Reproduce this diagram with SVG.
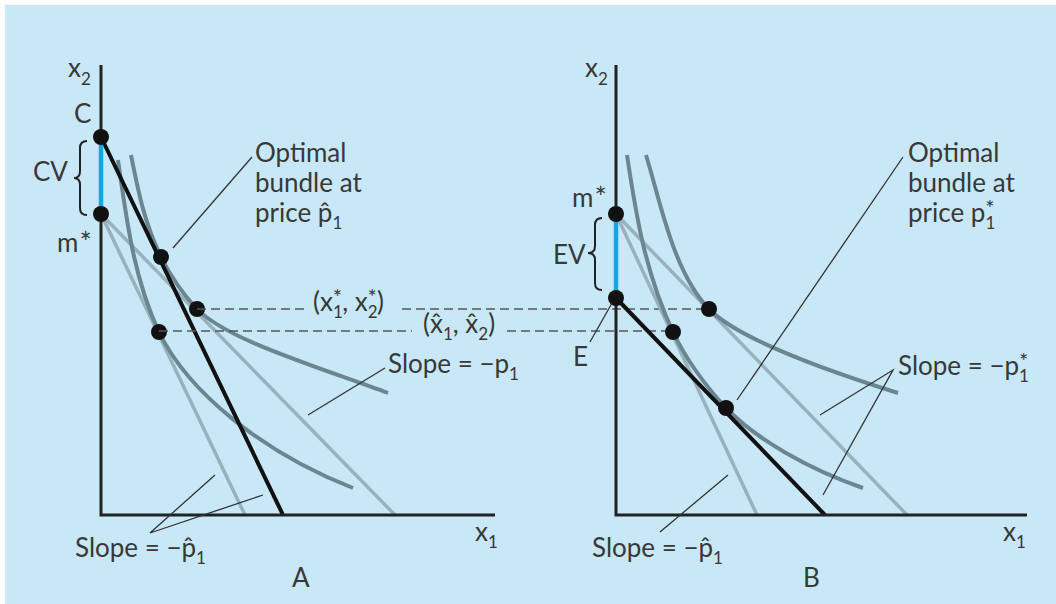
<svg xmlns="http://www.w3.org/2000/svg" width="1056" height="604" viewBox="0 0 1056 604">
<style>
.t{font-family:Lato,'Open Sans','Liberation Sans',sans-serif;font-size:26px;fill:#383838}
.s{font-size:17px}
.st{font-size:22px}
.sm{font-size:29px}
.ax{stroke:#222;stroke-width:3;fill:none}
.bud{stroke:#111;stroke-width:4;fill:none}
.lt{stroke:#97b2bd;stroke-width:3.5;fill:none}
.ic{stroke:#6b8691;stroke-width:4;fill:none}
.bl{stroke:#16a6e2;stroke-width:4.5;fill:none}
.ld{stroke:#333;stroke-width:1.3;fill:none}
.da{stroke:#555;stroke-width:1.6;stroke-dasharray:9 5;fill:none}
.br{stroke:#222;stroke-width:2;fill:none}
.dot{fill:#111}
</style>
<rect width="1056" height="604" fill="#fff"/>
<rect x="5" y="5" width="1051" height="599" fill="#c8e8f7"/>

<g id="panelA">
  <g id="A-lines">
    <path class="lt" d="M101,214 L395,515"/>
    <path class="lt" d="M101,214 L245,515"/>
    <path class="ic" d="M118,160 C126,215 133,277 159,332 C188,392 263,453 353,488"/>
    <path class="ic" d="M131,155 C138,190 144,222 161,257 C170,275 179.5,290.5 197,309 C227,340 318,367 388,393"/>
    <path class="bud" d="M101,137 L283,515"/>
    <path class="ax" d="M101,65 L101,515 L495,515"/>
    <path class="bl" d="M101,140 L101,211"/>
    <path class="br" d="M87,141 Q80,141 80,148 L80,171 Q80,178 74,178 Q80,178 80,185 L80,208 Q80,215 87,215"/>
  </g>
  <g id="A-dots">
    <circle class="dot" cx="101" cy="137" r="8"/>
    <circle class="dot" cx="101" cy="214" r="8"/>
    <circle class="dot" cx="161" cy="257" r="8"/>
    <circle class="dot" cx="197" cy="309" r="8"/>
    <circle class="dot" cx="159" cy="332" r="8"/>
  </g>
  <g id="A-leaders">
    <path class="ld" d="M252,157 L173,248"/>
    <path class="ld" d="M385,368 L308,415"/>
    <path class="ld" d="M215,475 L150,533 L263,495"/>
  </g>
  <g id="A-labels">
    <text class="t" x="68" y="77">x<tspan class="s" dy="8">2</tspan></text>
    <text class="t" x="74" y="123">C</text>
    <text class="t" x="33" y="181">CV</text>
    <text class="t" x="57" y="252">m<tspan class="sm" dx="1" dy="1">*</tspan></text>
    <text class="t" x="255" y="162">Optimal</text>
    <text class="t" x="255" y="192">bundle at</text>
    <text class="t" x="255" y="222">price p&#x302;<tspan class="s" dy="7">1</tspan></text>
    <text class="t" x="388" y="373">Slope = −p<tspan class="s" dy="7">1</tspan></text>
    <text class="t" x="75" y="557">Slope = −p&#x302;<tspan class="s" dy="7">1</tspan></text>
    <text class="t" x="475" y="541">x<tspan class="s" dy="7">1</tspan></text>
    <text class="t" x="292" y="587">A</text>
  </g>
</g>

<g id="connectors">
  <path class="da" d="M197,309 H305 M402,309 H709"/>
  <path class="da" d="M159,331 H412 M507,331 H673"/>
  <text class="t" x="313" y="311">(x<tspan class="s" dy="7">1</tspan><tspan class="st" dx="-10" dy="-13">*</tspan><tspan dy="6">, x</tspan><tspan class="s" dy="7">2</tspan><tspan class="st" dx="-10" dy="-13">*</tspan><tspan dy="6">)</tspan></text>
  <text class="t" x="423" y="333">(x&#x302;<tspan class="s" dy="7">1</tspan><tspan dy="-7">, x&#x302;</tspan><tspan class="s" dy="7">2</tspan><tspan dy="-7">)</tspan></text>
</g>

<g id="panelB">
  <g id="B-lines">
    <path class="lt" d="M616,214 L907,515"/>
    <path class="lt" d="M616,214 L757,515"/>
    <path class="ic" d="M627,155 C636,215 645,272 673,332 C685,357 702,382 726,408 C756,439 808,469 863,488"/>
    <path class="ic" d="M646,155 C660,200 673,272 709,309 C739,340 828,371 898,393"/>
    <path class="bud" d="M616,298 L825,515"/>
    <path class="ax" d="M616,65 L616,515 L1027,515"/>
    <path class="bl" d="M616,217 L616,295"/>
    <path class="br" d="M602,218 Q595,218 595,225 L595,246 Q595,253 588,253 Q595,253 595,260 L595,283 Q595,290 602,290"/>
  </g>
  <g id="B-dots">
    <circle class="dot" cx="616" cy="214" r="8"/>
    <circle class="dot" cx="616" cy="298" r="8"/>
    <circle class="dot" cx="709" cy="309" r="8"/>
    <circle class="dot" cx="673" cy="332" r="8"/>
    <circle class="dot" cx="726" cy="408" r="8"/>
  </g>
  <g id="B-leaders">
    <path class="ld" d="M903,157 L737,400"/>
    <path class="ld" d="M820,415 L893,370 L823,495"/>
    <path class="ld" d="M660,532 L728,475"/>
    <path class="ld" d="M590,342 L612,303"/>
  </g>
  <g id="B-labels">
    <text class="t" x="585" y="77">x<tspan class="s" dy="8">2</tspan></text>
    <text class="t" x="572" y="207">m<tspan class="sm" dx="1" dy="1">*</tspan></text>
    <text class="t" x="553" y="264">EV</text>
    <text class="t" x="573" y="366">E</text>
    <text class="t" x="908" y="162">Optimal</text>
    <text class="t" x="908" y="192">bundle at</text>
    <text class="t" x="908" y="222">price p<tspan class="s" dy="7">1</tspan><tspan class="st" dx="-10" dy="-13">*</tspan></text>
    <text class="t" x="898" y="375">Slope = −p<tspan class="s" dy="7">1</tspan><tspan class="st" dx="-10" dy="-13">*</tspan></text>
    <text class="t" x="592" y="557">Slope = −p&#x302;<tspan class="s" dy="7">1</tspan></text>
    <text class="t" x="1003" y="541">x<tspan class="s" dy="7">1</tspan></text>
    <text class="t" x="803" y="587">B</text>
  </g>
</g>
</svg>
